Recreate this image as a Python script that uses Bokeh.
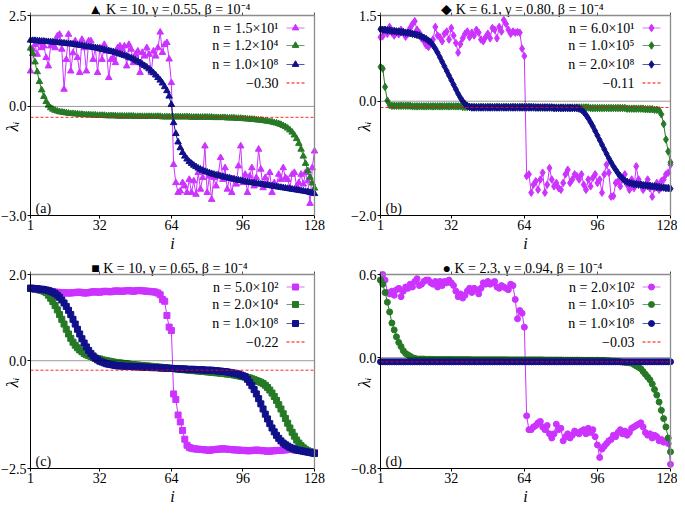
import math
from bokeh.plotting import figure
from bokeh.models import Range1d, LinearAxis, FixedTicker
from bokeh.core.properties import value
from bokeh.embed import file_html
from bokeh.resources import INLINE

FONT = "Liberation Serif"
VIOLET = "#cc33ff"
GREEN = "#267a26"
NAVY = "#10108a"
COLORS = [VIOLET, GREEN, NAVY]

# ---------------- data ----------------
I_IDX = list(range(1, 129))
X_TICKS = [1, 32, 64, 96, 128]
X_TICK_LABELS = ["1", "32", "64", "96", "128"]

# panel (a)
a_title = "▲ K = 10, γ = 0.55, β = 10⁻⁴"
a_names = ["n = 1.5×10¹", "n = 1.2×10⁴", "n = 1.0×10⁸"]
a_mean = -0.30
a_mean_label = "−0.30"
a_yticks = [-3.0, 0.0, 2.5]
a_ytick_labels = ["−3.0", "0.0", "2.5"]
a_n1 = [0.97, 1.57, 1.70, 1.43, 1.75, 1.61, 1.66, 1.34,
        1.11, 1.66, 1.70, 1.61, 1.93, 1.98, 1.57, 0.47,
        1.29, 1.98, 0.97, 1.47, 1.80, 1.34, 0.93, 1.84,
        1.61, 0.97, 1.80, 1.80, 1.29, 1.61, 0.93, 1.61,
        1.29, 1.70, 1.52, 0.79, 1.29, 1.34, 1.20, 1.61,
        1.66, 1.57, 1.66, 1.11, 1.70, 1.57, 1.20, 1.43,
        1.52, 0.93, 1.48, 1.38, 1.61, 1.43, 0.93, 1.52,
        1.38, 1.61, 2.04, 1.48, 1.70, 1.75, 1.30, 0.65,
        -1.60, -2.10, -2.37, -2.33, -2.10, -2.19, -2.37, -2.01,
        -2.37, -2.05, -2.42, -1.82, -2.28, -1.96, -1.09, -2.37,
        -1.92, -2.56, -1.96, -2.19, -1.87, -1.41, -2.01, -1.69,
        -2.28, -1.96, -2.37, -2.01, -2.14, -1.64, -1.09, -2.10,
        -1.87, -2.37, -1.92, -1.69, -2.19, -1.96, -1.18, -1.73,
        -2.24, -1.96, -2.14, -1.82, -2.37, -2.10, -2.19, -1.87,
        -2.01, -1.69, -1.96, -2.01, -2.24, -1.87, -1.82, -2.19,
        -2.10, -1.87, -2.14, -1.82, -2.05, -2.67, -1.69, -1.23]
a_n2 = [1.60, 1.45, 1.22, 0.95, 0.68, 0.45, 0.27, 0.13,
        0.03, -0.04, -0.08, -0.11, -0.13, -0.15, -0.16, -0.17,
        -0.18, -0.19, -0.20, -0.20, -0.21, -0.21, -0.22, -0.22,
        -0.23, -0.23, -0.23, -0.24, -0.24, -0.24, -0.25, -0.25,
        -0.25, -0.25, -0.26, -0.26, -0.26, -0.26, -0.26, -0.27,
        -0.27, -0.27, -0.27, -0.27, -0.27, -0.27, -0.27, -0.28,
        -0.28, -0.28, -0.28, -0.28, -0.28, -0.28, -0.28, -0.28,
        -0.28, -0.28, -0.28, -0.29, -0.29, -0.29, -0.29, -0.29,
        -0.29, -0.29, -0.29, -0.29, -0.29, -0.29, -0.29, -0.29,
        -0.30, -0.30, -0.30, -0.30, -0.30, -0.30, -0.30, -0.30,
        -0.30, -0.30, -0.31, -0.31, -0.31, -0.31, -0.31, -0.31,
        -0.32, -0.32, -0.32, -0.32, -0.33, -0.33, -0.33, -0.34,
        -0.34, -0.35, -0.35, -0.36, -0.36, -0.37, -0.38, -0.38,
        -0.39, -0.40, -0.41, -0.42, -0.43, -0.45, -0.46, -0.48,
        -0.50, -0.53, -0.56, -0.60, -0.65, -0.71, -0.79, -0.89,
        -1.02, -1.18, -1.37, -1.57, -1.77, -1.95, -2.11, -2.25]
a_n3 = [1.82, 1.81, 1.81, 1.80, 1.80, 1.79, 1.79, 1.78,
        1.78, 1.77, 1.77, 1.76, 1.76, 1.75, 1.74, 1.74,
        1.73, 1.72, 1.72, 1.71, 1.70, 1.69, 1.68, 1.67,
        1.66, 1.65, 1.64, 1.63, 1.62, 1.61, 1.60, 1.58,
        1.57, 1.56, 1.54, 1.53, 1.51, 1.50, 1.48, 1.46,
        1.44, 1.42, 1.40, 1.38, 1.35, 1.33, 1.30, 1.27,
        1.24, 1.20, 1.16, 1.12, 1.08, 1.03, 0.98, 0.92,
        0.86, 0.79, 0.72, 0.64, 0.54, 0.43, 0.28, 0.05,
        -0.45, -0.75, -0.98, -1.14, -1.27, -1.37, -1.45, -1.52,
        -1.57, -1.62, -1.66, -1.70, -1.73, -1.76, -1.79, -1.81,
        -1.83, -1.85, -1.87, -1.89, -1.90, -1.92, -1.93, -1.95,
        -1.96, -1.98, -1.99, -2.00, -2.02, -2.03, -2.04, -2.05,
        -2.07, -2.08, -2.09, -2.10, -2.11, -2.12, -2.13, -2.14,
        -2.15, -2.16, -2.17, -2.18, -2.19, -2.20, -2.21, -2.22,
        -2.23, -2.24, -2.25, -2.26, -2.27, -2.28, -2.29, -2.30,
        -2.31, -2.32, -2.33, -2.34, -2.35, -2.37, -2.38, -2.40]

# panel (b)
b_title = "◆ K = 6.1, γ = 0.80, β = 10⁻⁴"
b_names = ["n = 6.0×10¹", "n = 1.0×10⁵", "n = 2.0×10⁸"]
b_mean = -0.11
b_mean_label = "−0.11"
b_yticks = [-2.0, 0.0, 1.5]
b_ytick_labels = ["−2.0", "0.0", "1.5"]
b_n1 = [1.12, 1.14, 1.25, 1.18, 1.30, 1.20, 1.15, 1.22,
        1.17, 1.25, 1.20, 1.13, 1.18, 1.28, 1.35, 1.40,
        1.25, 1.20, 1.10, 1.05, 0.98, 0.95, 1.00, 1.08,
        1.30, 1.15, 1.12, 1.05, 1.18, 1.22, 1.08, 1.28,
        1.15, 1.02, 0.85, 1.00, 1.10, 1.18, 1.22, 1.12,
        1.20, 1.15, 1.25, 1.20, 1.08, 1.05, 1.12, 1.18,
        1.10, 1.28, 1.25, 1.10, 1.30, 1.22, 1.42, 1.35,
        1.25, 1.18, 1.22, 1.20, 1.21, 1.20, 0.92, 0.79,
        -1.31, -1.28, -1.60, -1.46, -1.40, -1.55, -1.37, -1.25,
        -1.60, -1.46, -1.17, -1.37, -1.49, -1.43, -1.52, -1.55,
        -1.43, -1.28, -1.20, -1.43, -1.37, -1.28, -1.31, -1.37,
        -1.28, -1.46, -1.55, -1.37, -1.49, -1.34, -1.28, -1.43,
        -1.37, -1.60, -1.28, -1.11, -1.25, -1.67, -1.66, -1.43,
        -1.40, -1.49, -1.37, -1.28, -1.46, -1.55, -1.37, -1.52,
        -1.14, -1.37, -1.46, -1.55, -1.49, -1.37, -1.52, -1.67,
        -1.52, -1.43, -1.55, -1.40, -1.37, -1.28, -1.25, -1.11]
b_n2 = [0.60, 0.57, 0.25, 0.01, -0.07, -0.08, -0.08, -0.08,
        -0.08, -0.08, -0.08, -0.08, -0.08, -0.08, -0.09, -0.09,
        -0.09, -0.09, -0.09, -0.09, -0.09, -0.09, -0.09, -0.09,
        -0.09, -0.09, -0.09, -0.09, -0.09, -0.09, -0.09, -0.09,
        -0.09, -0.09, -0.09, -0.09, -0.10, -0.10, -0.10, -0.10,
        -0.10, -0.10, -0.10, -0.10, -0.10, -0.10, -0.10, -0.10,
        -0.10, -0.10, -0.10, -0.10, -0.10, -0.10, -0.10, -0.10,
        -0.10, -0.10, -0.10, -0.10, -0.10, -0.10, -0.10, -0.10,
        -0.10, -0.10, -0.10, -0.10, -0.11, -0.11, -0.11, -0.11,
        -0.11, -0.11, -0.11, -0.11, -0.11, -0.11, -0.11, -0.11,
        -0.11, -0.11, -0.11, -0.11, -0.11, -0.11, -0.11, -0.11,
        -0.11, -0.11, -0.11, -0.11, -0.12, -0.12, -0.12, -0.12,
        -0.12, -0.12, -0.12, -0.12, -0.12, -0.12, -0.12, -0.12,
        -0.12, -0.12, -0.12, -0.12, -0.13, -0.13, -0.13, -0.13,
        -0.13, -0.13, -0.13, -0.13, -0.14, -0.14, -0.14, -0.14,
        -0.15, -0.15, -0.16, -0.23, -0.40, -0.67, -0.88, -1.07]
b_n3 = [1.26, 1.25, 1.25, 1.24, 1.24, 1.23, 1.23, 1.22,
        1.22, 1.21, 1.21, 1.20, 1.20, 1.19, 1.18, 1.17,
        1.16, 1.15, 1.13, 1.11, 1.09, 1.06, 1.03, 0.98,
        0.92, 0.85, 0.77, 0.69, 0.61, 0.53, 0.45, 0.37,
        0.29, 0.21, 0.13, 0.06, 0.00, -0.05, -0.08, -0.10,
        -0.11, -0.11, -0.11, -0.11, -0.11, -0.11, -0.11, -0.11,
        -0.11, -0.11, -0.11, -0.11, -0.11, -0.11, -0.11, -0.11,
        -0.11, -0.11, -0.11, -0.11, -0.11, -0.11, -0.11, -0.11,
        -0.11, -0.11, -0.11, -0.11, -0.11, -0.11, -0.11, -0.11,
        -0.11, -0.11, -0.11, -0.11, -0.12, -0.12, -0.12, -0.12,
        -0.12, -0.12, -0.12, -0.12, -0.12, -0.12, -0.12, -0.13,
        -0.15, -0.19, -0.24, -0.30, -0.37, -0.44, -0.52, -0.60,
        -0.68, -0.76, -0.84, -0.92, -1.00, -1.07, -1.14, -1.20,
        -1.26, -1.31, -1.35, -1.39, -1.41, -1.43, -1.44, -1.45,
        -1.45, -1.46, -1.46, -1.47, -1.47, -1.48, -1.48, -1.49,
        -1.49, -1.50, -1.50, -1.51, -1.51, -1.52, -1.52, -1.53]

# panel (c)
c_title = "■ K = 10, γ = 0.65, β = 10⁻⁴"
c_names = ["n = 5.0×10²", "n = 2.0×10⁴", "n = 1.0×10⁸"]
c_mean = -0.22
c_mean_label = "−0.22"
c_yticks = [-2.5, 0.0, 2.0]
c_ytick_labels = ["−2.5", "0.0", "2.0"]
c_n1 = [1.68, 1.67, 1.66, 1.65, 1.64, 1.63, 1.62, 1.62,
        1.61, 1.60, 1.60, 1.59, 1.59, 1.58, 1.58, 1.58,
        1.57, 1.57, 1.57, 1.58, 1.58, 1.59, 1.59, 1.58,
        1.57, 1.57, 1.58, 1.59, 1.60, 1.60, 1.59, 1.59,
        1.60, 1.61, 1.61, 1.60, 1.60, 1.61, 1.62, 1.62,
        1.61, 1.61, 1.62, 1.62, 1.63, 1.62, 1.61, 1.62,
        1.63, 1.63, 1.62, 1.62, 1.61, 1.61, 1.60, 1.60,
        1.59, 1.57, 1.53, 1.42, 1.38, 1.05, 0.78, 0.70,
        -0.77, -0.90, -1.26, -1.42, -1.62, -1.82, -1.96, -2.01,
        -2.03, -2.04, -2.05, -2.05, -2.06, -2.06, -2.07, -2.07,
        -2.08, -2.07, -2.06, -2.06, -2.05, -2.05, -2.04, -2.05,
        -2.05, -2.06, -2.06, -2.07, -2.07, -2.07, -2.08, -2.08,
        -2.08, -2.09, -2.09, -2.08, -2.08, -2.07, -2.08, -2.08,
        -2.09, -2.09, -2.10, -2.10, -2.09, -2.09, -2.08, -2.08,
        -2.08, -2.07, -2.07, -2.06, -2.06, -2.06, -2.07, -2.07,
        -2.08, -2.08, -2.09, -2.09, -2.10, -2.11, -2.12, -2.13]
c_n2 = [1.68, 1.67, 1.67, 1.66, 1.65, 1.63, 1.61, 1.58,
        1.52, 1.45, 1.37, 1.28, 1.18, 1.07, 0.96, 0.85,
        0.73, 0.62, 0.52, 0.43, 0.36, 0.30, 0.25, 0.21,
        0.17, 0.14, 0.12, 0.10, 0.08, 0.06, 0.05, 0.04,
        0.02, 0.01, 0.00, -0.01, -0.02, -0.03, -0.04, -0.05,
        -0.05, -0.06, -0.07, -0.07, -0.08, -0.09, -0.09, -0.10,
        -0.10, -0.11, -0.11, -0.12, -0.12, -0.13, -0.13, -0.14,
        -0.14, -0.15, -0.15, -0.16, -0.16, -0.17, -0.17, -0.18,
        -0.18, -0.19, -0.19, -0.20, -0.20, -0.21, -0.21, -0.22,
        -0.22, -0.23, -0.23, -0.24, -0.24, -0.25, -0.25, -0.26,
        -0.26, -0.27, -0.27, -0.28, -0.28, -0.29, -0.29, -0.30,
        -0.31, -0.31, -0.32, -0.33, -0.34, -0.35, -0.36, -0.37,
        -0.38, -0.39, -0.40, -0.42, -0.44, -0.46, -0.48, -0.50,
        -0.53, -0.57, -0.62, -0.68, -0.75, -0.83, -0.92, -1.02,
        -1.12, -1.23, -1.34, -1.45, -1.56, -1.66, -1.75, -1.84,
        -1.91, -1.97, -2.02, -2.06, -2.09, -2.11, -2.13, -2.15]
c_n3 = [1.68, 1.68, 1.67, 1.67, 1.66, 1.66, 1.65, 1.64,
        1.63, 1.61, 1.59, 1.56, 1.52, 1.47, 1.41, 1.34,
        1.26, 1.17, 1.07, 0.96, 0.85, 0.73, 0.62, 0.51,
        0.41, 0.32, 0.24, 0.17, 0.11, 0.06, 0.02, -0.01,
        -0.03, -0.05, -0.07, -0.08, -0.09, -0.10, -0.11, -0.12,
        -0.12, -0.12, -0.13, -0.13, -0.13, -0.13, -0.14, -0.14,
        -0.14, -0.14, -0.15, -0.15, -0.15, -0.15, -0.16, -0.16,
        -0.16, -0.16, -0.17, -0.17, -0.17, -0.17, -0.18, -0.18,
        -0.18, -0.18, -0.19, -0.19, -0.19, -0.19, -0.20, -0.20,
        -0.20, -0.20, -0.21, -0.21, -0.21, -0.21, -0.22, -0.22,
        -0.22, -0.22, -0.23, -0.23, -0.24, -0.24, -0.25, -0.25,
        -0.26, -0.27, -0.28, -0.29, -0.30, -0.31, -0.33, -0.35,
        -0.37, -0.43, -0.50, -0.58, -0.67, -0.77, -0.88, -1.00,
        -1.12, -1.24, -1.35, -1.46, -1.56, -1.65, -1.73, -1.80,
        -1.86, -1.91, -1.95, -1.98, -2.01, -2.03, -2.05, -2.07,
        -2.08, -2.09, -2.10, -2.11, -2.12, -2.13, -2.14, -2.15]

# panel (d)
d_title = "● K = 2.3, γ = 0.94, β = 10⁻⁴"
d_names = ["n = 2.0×10²", "n = 1.0×10⁵", "n = 1.0×10⁸"]
d_mean = -0.03
d_mean_label = "−0.03"
d_yticks = [-0.8, 0.0, 0.6]
d_ytick_labels = ["−0.8", "0.0", "0.6"]
d_n1 = [0.56, 0.60, 0.56, 0.47, 0.46, 0.48, 0.45, 0.49,
        0.50, 0.44, 0.48, 0.51, 0.50, 0.53, 0.51, 0.55,
        0.57, 0.52, 0.53, 0.55, 0.56, 0.56, 0.54, 0.53,
        0.55, 0.51, 0.55, 0.52, 0.55, 0.54, 0.56, 0.54,
        0.52, 0.48, 0.44, 0.46, 0.43, 0.45, 0.48, 0.50,
        0.47, 0.50, 0.49, 0.46, 0.50, 0.54, 0.53, 0.55,
        0.53, 0.54, 0.55, 0.51, 0.50, 0.52, 0.51, 0.50,
        0.49, 0.53, 0.52, 0.42, 0.28, 0.34, 0.32, 0.22,
        -0.42, -0.52, -0.52, -0.50, -0.49, -0.47, -0.46, -0.50,
        -0.52, -0.49, -0.55, -0.58, -0.55, -0.48, -0.52, -0.51,
        -0.60, -0.57, -0.55, -0.58, -0.56, -0.53, -0.54, -0.55,
        -0.53, -0.52, -0.55, -0.51, -0.54, -0.52, -0.57, -0.63,
        -0.72, -0.66, -0.64, -0.62, -0.60, -0.59, -0.56, -0.57,
        -0.54, -0.52, -0.55, -0.53, -0.56, -0.54, -0.51, -0.50,
        -0.49, -0.48, -0.47, -0.50, -0.54, -0.56, -0.55, -0.58,
        -0.56, -0.57, -0.60, -0.59, -0.61, -0.60, -0.62, -0.77]
d_n2 = [0.56, 0.53, 0.47, 0.40, 0.33, 0.25, 0.20, 0.15,
        0.11, 0.08, 0.05, 0.03, 0.02, 0.01, 0.00, -0.005,
        -0.010, -0.010, -0.010, -0.010, -0.012, -0.012, -0.012, -0.012,
        -0.013, -0.013, -0.013, -0.013, -0.013, -0.013, -0.013, -0.013,
        -0.014, -0.014, -0.014, -0.014, -0.014, -0.014, -0.014, -0.014,
        -0.015, -0.015, -0.015, -0.015, -0.015, -0.015, -0.015, -0.015,
        -0.015, -0.015, -0.015, -0.015, -0.015, -0.015, -0.015, -0.015,
        -0.016, -0.016, -0.016, -0.016, -0.016, -0.016, -0.016, -0.016,
        -0.016, -0.016, -0.016, -0.016, -0.016, -0.016, -0.016, -0.016,
        -0.017, -0.017, -0.017, -0.017, -0.017, -0.017, -0.017, -0.017,
        -0.018, -0.018, -0.018, -0.018, -0.018, -0.018, -0.018, -0.018,
        -0.019, -0.019, -0.019, -0.019, -0.019, -0.019, -0.019, -0.019,
        -0.020, -0.020, -0.021, -0.022, -0.023, -0.024, -0.025, -0.026,
        -0.028, -0.030, -0.032, -0.034, -0.036, -0.038, -0.040, -0.050,
        -0.060, -0.070, -0.080, -0.100, -0.120, -0.140, -0.160, -0.190,
        -0.230, -0.270, -0.320, -0.380, -0.440, -0.500, -0.580, -0.680]
d_n3 = [-0.03, -0.03, -0.03, -0.03, -0.03, -0.03, -0.03, -0.03,
        -0.03, -0.03, -0.03, -0.03, -0.03, -0.03, -0.03, -0.03,
        -0.03, -0.03, -0.03, -0.03, -0.03, -0.03, -0.03, -0.03,
        -0.03, -0.03, -0.03, -0.03, -0.03, -0.03, -0.03, -0.03,
        -0.03, -0.03, -0.03, -0.03, -0.03, -0.03, -0.03, -0.03,
        -0.03, -0.03, -0.03, -0.03, -0.03, -0.03, -0.03, -0.03,
        -0.03, -0.03, -0.03, -0.03, -0.03, -0.03, -0.03, -0.03,
        -0.03, -0.03, -0.03, -0.03, -0.03, -0.03, -0.03, -0.03,
        -0.03, -0.03, -0.03, -0.03, -0.03, -0.03, -0.03, -0.03,
        -0.03, -0.03, -0.03, -0.03, -0.03, -0.03, -0.03, -0.03,
        -0.03, -0.03, -0.03, -0.03, -0.03, -0.03, -0.03, -0.03,
        -0.03, -0.03, -0.03, -0.03, -0.03, -0.03, -0.03, -0.03,
        -0.03, -0.03, -0.03, -0.03, -0.03, -0.03, -0.03, -0.03,
        -0.03, -0.03, -0.03, -0.03, -0.03, -0.03, -0.03, -0.03,
        -0.03, -0.03, -0.03, -0.03, -0.03, -0.03, -0.03, -0.03,
        -0.03, -0.03, -0.03, -0.03, -0.03, -0.03, -0.03, -0.03]


# ---------------- drawing (one canvas, four panels) ----------------
W, H = 677, 511
p = figure(width=W, height=H, output_backend="svg", toolbar_location=None,
           x_range=Range1d(0, W), y_range=Range1d(0, H),
           x_axis_location=None, y_axis_location=None, min_border=0)
p.grid.visible = False
p.outline_line_color = None
p.background_fill_color = "white"
p.border_fill_color = "white"


def add_text(x, y, text, size="14px", align="left", baseline="middle", style="normal", angle=0.0):
    p.text(x=[x], y=[y], text=[text], angle=angle,
           text_font=value(FONT), text_font_size=value(size), text_align=value(align),
           text_baseline=value(baseline), text_font_style=value(style), text_color="black")


def style_axis(ax, standoff):
    ax.axis_line_color = "black"
    ax.axis_line_width = 1
    ax.major_tick_line_color = "black"
    ax.major_tick_out = 3
    ax.major_tick_in = 0
    ax.minor_tick_line_color = None
    ax.major_label_text_font = FONT
    ax.major_label_text_font_size = "14px"
    ax.major_label_text_color = "black"
    ax.major_label_standoff = standoff


def panel(key, ox, oy, sw, sh, fl, fr, ft, fb, yr, yticks, ytl, series, names, marker, msize,
          mean, mean_txt, title, title_y, letter, lam_x, lam_y, i_y):
    # (ox, oy): top-left of the panel cell on the canvas; (sw, sh): cell size
    # fl/fr: frame left/right inside the cell; ft/fb: frame top/bottom inside the cell (from top)
    base = H - oy - sh            # canvas y (bottom-up) of the cell bottom
    X = lambda v: ox + v
    Y = lambda v: base + v        # v measured bottom-up inside the cell
    x0, x1 = I_IDX[0], I_IDX[-1]
    y0, y1 = yr
    ux = (x1 - x0) / (fr - fl)
    uy = (y1 - y0) / (fb - ft)
    xs = x0 - X(fl) * ux
    ys = y0 - Y(sh - fb) * uy
    kx, ky = key + "x", key + "y"
    p.extra_x_ranges[kx] = Range1d(xs, xs + W * ux)
    p.extra_y_ranges[ky] = Range1d(ys, ys + H * uy)
    rn = dict(x_range_name=kx, y_range_name=ky)

    bottom = LinearAxis(fixed_location=y0, bounds=(x0, x1), ticker=FixedTicker(ticks=X_TICKS),
                        major_label_overrides={t: s for t, s in zip(X_TICKS, X_TICK_LABELS)}, **rn)
    style_axis(bottom, 1)
    p.add_layout(bottom, "below")
    left = LinearAxis(fixed_location=x0, bounds=(y0, y1), ticker=FixedTicker(ticks=yticks),
                      major_label_overrides={t: s for t, s in zip(yticks, ytl)}, **rn)
    style_axis(left, 1)
    p.add_layout(left, "left")
    top = LinearAxis(fixed_location=y1, bounds=(x0, x1), ticker=FixedTicker(ticks=X_TICKS),
                     axis_line_color="#8c8c8c", axis_line_width=1.3,
                     major_tick_out=3, major_tick_in=0, major_tick_line_color="#555555",
                     minor_tick_line_color=None, major_label_text_color=None, **rn)
    p.add_layout(top, "above")
    right = LinearAxis(fixed_location=x1, bounds=(y0, y1), ticker=FixedTicker(ticks=yticks),
                       axis_line_color="#8c8c8c", axis_line_width=1.3,
                       major_tick_line_color=None, minor_tick_line_color=None,
                       major_label_text_color=None, **rn)
    p.add_layout(right, "right")

    for vals, col in zip(series, COLORS):
        p.line(I_IDX, vals, line_color=col, line_width=1, **rn)
        p.scatter(I_IDX, vals, marker=marker, size=msize, fill_color=col, line_color=col, **rn)

    p.line([x0, x1], [0, 0], line_color="black", line_dash="1 1", line_width=0.8, **rn)
    p.line([x0, x1], [mean, mean], line_color="red", line_dash="3 2", line_width=1,
           line_alpha=0.85, **rn)

    # legend: text first, sample after (as in the reference)
    rows_y = [Y(sh - ft - 12.5), Y(sh - ft - 30), Y(sh - ft - 49), Y(sh - ft - 67.5)]
    tx = X(fr - 36)
    for k in range(3):
        add_text(tx, rows_y[k], names[k], align="right")
        p.line([X(fr - 28), X(fr - 10)], [rows_y[k], rows_y[k]],
               line_color=COLORS[k], line_width=1, line_alpha=0.7)
        p.scatter([X(fr - 19)], [rows_y[k]], marker=marker, size=msize,
                  fill_color=COLORS[k], line_color=COLORS[k])
    add_text(tx, rows_y[3], mean_txt, align="right")
    p.line([X(fr - 28), X(fr - 10)], [rows_y[3], rows_y[3]],
           line_color="red", line_width=1, line_dash="3 2")

    add_text(X((fl + fr) / 2 - 3), Y(title_y), title, align="center", baseline="alphabetic")
    add_text(X(fl + 5), Y(sh - fb + 7), letter, baseline="alphabetic")
    add_text(X(lam_x), Y(lam_y), "λᵢ", size="17px", align="center", baseline="alphabetic",
             style="italic", angle=math.pi / 2)
    add_text(X((fl + fr) / 2), Y(i_y), "i", size="16px", align="center", baseline="alphabetic",
             style="italic")


W1, W2 = 340, 337
H1, H2 = 255, 256
panel("a", 0, 0, W1, H1, 30, 314, 15, 215, (-3.0, 2.5), a_yticks, a_ytick_labels,
      [a_n1, a_n2, a_n3], a_names, "triangle", 6.5, a_mean, a_mean_label,
      a_title, 246, "(a)", 12, 129, 12.5)
panel("b", W1, 0, W2, H1, 40, 330, 15, 215, (-2.0, 1.5), b_yticks, b_ytick_labels,
      [b_n1, b_n2, b_n3], b_names, "diamond", 7.5, b_mean, b_mean_label,
      b_title, 246, "(b)", 23.5, 129, 12.5)
panel("c", 0, H1, W1, H2, 30, 314, 19, 213, (-2.5, 2.0), c_yticks, c_ytick_labels,
      [c_n1, c_n2, c_n3], c_names, "square", 6, c_mean, c_mean_label,
      c_title, 243.5, "(c)", 12, 129, 15)
panel("d", W1, H1, W2, H2, 40, 330, 19, 213, (-0.8, 0.6), d_yticks, d_ytick_labels,
      [d_n1, d_n2, d_n3], d_names, "circle", 6, d_mean, d_mean_label,
      d_title, 243.5, "(d)", 23.5, 129, 15)

open("out.html", "w").write(file_html(p, INLINE))
